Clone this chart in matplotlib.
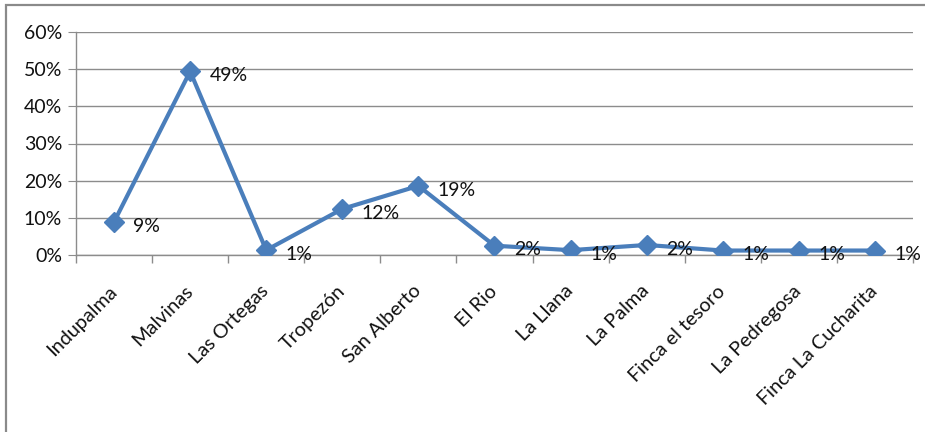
import matplotlib
matplotlib.use("Agg")
import matplotlib.pyplot as plt
from matplotlib.patches import Rectangle
from matplotlib.ticker import PercentFormatter, FixedLocator, NullFormatter

categories = ["Indupalma", "Malvinas", "Las Ortegas", "Tropezón", "San Alberto",
              "El Rio", "La Llana", "La Palma", "Finca el tesoro", "La Pedregosa",
              "Finca La Cucharita"]
values = [0.089, 0.494, 0.013, 0.124, 0.186, 0.025, 0.013, 0.027, 0.012, 0.012, 0.012]
labels = ["9%", "49%", "1%", "12%", "19%", "2%", "1%", "2%", "1%", "1%", "1%"]

plt.rcParams['font.family'] = ['Lato', 'DejaVu Sans']
fig = plt.figure(figsize=(9.25, 4.32), dpi=100)
ax = fig.add_axes([76/925, 1-255/432, (913-76)/925, (255-32)/432])

color = "#4A7EBB"
x = list(range(len(categories)))
ax.plot(x, values, color=color, lw=3, marker="D", ms=10, mfc=color, mec=color, zorder=3)
for xi, v, lab in zip(x, values, labels):
    ax.annotate(lab, (xi, v), xytext=(14, -3), textcoords="offset points",
                ha="left", va="center", fontsize=14, color="#111111", zorder=4)

ax.set_xlim(-0.5, len(categories) - 0.5)
ax.set_ylim(0, 0.6)
ax.set_yticks([0, 0.1, 0.2, 0.3, 0.4, 0.5, 0.6])
ax.yaxis.set_major_formatter(PercentFormatter(1.0, decimals=0))
ax.grid(axis="y", color="#8c8c8c", lw=1)
ax.set_axisbelow(True)

ax.set_xticks(x)
ax.set_xticklabels(categories, rotation=45, ha="right", va="center", rotation_mode="anchor",
                   fontsize=14.3, color="#111111")
ax.tick_params(axis="x", length=0, pad=24)
ax.xaxis.set_minor_locator(FixedLocator([i - 0.5 for i in range(len(categories) + 1)]))
ax.xaxis.set_minor_formatter(NullFormatter())
ax.tick_params(axis="x", which="minor", length=6, color="#8c8c8c", width=1)
ax.tick_params(axis="y", length=6, color="#8c8c8c", labelsize=14, labelcolor="#111111", pad=4)

for s in ["top", "right"]:
    ax.spines[s].set_visible(False)
for s in ["left", "bottom"]:
    ax.spines[s].set_color("#8c8c8c")
    ax.spines[s].set_linewidth(1)

fig.patches.append(Rectangle((6/925, -0.1), 1.1, 1 - 5/432 + 0.1, transform=fig.transFigure,
                             fill=False, edgecolor="#8a8a8a", lw=1.6))

fig.savefig("out.png", dpi=100)
